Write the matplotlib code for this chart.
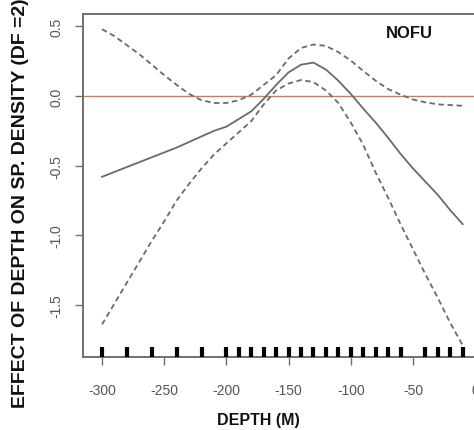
import numpy as np
import matplotlib
matplotlib.use("Agg")
import matplotlib.pyplot as plt

plt.rcParams["font.family"] = ["Liberation Sans", "DejaVu Sans"]
plt.rcParams["axes.unicode_minus"] = False

# =========================================
# DADOS
# =========================================

depth = [-300, -290, -280, -270, -260, -250, -240, -230, -220, -210,
         -200, -190, -180, -170, -160, -150, -140, -130, -120, -110,
         -100, -90, -80, -70, -60, -50, -40, -30, -20, -10]

effect = [-0.58, -0.545, -0.51, -0.475, -0.44, -0.405, -0.37, -0.33, -0.29, -0.25,
          -0.22, -0.165, -0.11, -0.02, 0.08, 0.17, 0.225, 0.24, 0.19, 0.11,
          0.015, -0.09, -0.19, -0.30, -0.415, -0.52, -0.615, -0.71, -0.82, -0.92]

upper = [0.48, 0.43, 0.365, 0.30, 0.225, 0.15, 0.08, 0.015, -0.03, -0.05,
         -0.05, -0.03, 0.01, 0.08, 0.15, 0.27, 0.345, 0.37, 0.36, 0.315,
         0.255, 0.18, 0.11, 0.05, 0.01, -0.025, -0.045, -0.06, -0.065, -0.07]

lower = [-1.64, -1.49, -1.34, -1.19, -1.04, -0.90, -0.75, -0.63, -0.52, -0.42,
         -0.34, -0.26, -0.18, -0.06, 0.04, 0.09, 0.115, 0.10, 0.04, -0.05,
         -0.19, -0.35, -0.55, -0.73, -0.92, -1.10, -1.28, -1.45, -1.63, -1.79]

rug_depths = [-300, -280, -260, -240, -220, -200, -190, -180, -170, -160,
              -150, -140, -130, -120, -110, -100, -90, -80, -70, -60,
              -40, -30, -20, -10]

x_ticks = [-300, -250, -200, -150, -100, -50, 0]
y_ticks = [0.5, 0.0, -0.5, -1.0, -1.5]
y_tick_labels = ["0.5", "0.0", "-0.5", "-1.0", "-1.5"]

# =========================================
# FIGURA
# =========================================

W, H = 474, 431
fig = plt.figure(figsize=(W / 100, H / 100), dpi=100)
ax = fig.add_axes([83 / W, 73 / H, 398 / W, 343 / H])

frame_color = "#707070"
line_color = "#6a6a6a"

ax.axhline(0, color="#c08070", lw=1.0, zorder=1)

ax.plot(depth, effect, color=line_color, lw=1.3, zorder=3)
ax.plot(depth, upper, color=line_color, lw=1.3, ls=(0, (3, 2)), zorder=3)
ax.plot(depth, lower, color=line_color, lw=1.3, ls=(0, (3, 2)), zorder=3)

ax.vlines(rug_depths, 0, 0.029, transform=ax.get_xaxis_transform(),
          colors="black", lw=3.0, zorder=4)

ax.set_xlim(-315.3, 4.7)
ax.set_ylim(-1.874, 0.589)

ax.set_xticks(x_ticks)
ax.set_xticklabels([str(v) for v in x_ticks])
ax.set_yticks(y_ticks)
ax.set_yticklabels(y_tick_labels, rotation=90, va="center")

ax.tick_params(axis="x", length=6, width=1.0, color=frame_color,
               labelcolor="#555555", labelsize=10, pad=13)
ax.tick_params(axis="y", length=6, width=1.0, color=frame_color,
               labelcolor="#555555", labelsize=10, pad=8)

for side in ax.spines.values():
    side.set_color(frame_color)
    side.set_linewidth(1.4)

ax.text(0.819, 0.9475, "NOFU", transform=ax.transAxes, ha="center",
        va="center", fontsize=12, fontweight="bold", color="#111111")

fig.text(258 / W, 10 / H, "DEPTH (M)", ha="center", va="center",
         fontsize=11.5, fontweight="bold", color="#111111")
fig.text(21 / W, 23 / H, "EFFECT OF DEPTH ON SP. DENSITY (DF =2)",
         rotation=90, ha="center", va="bottom",
         fontsize=14, fontweight="bold", color="#111111")

fig.savefig("out.png", dpi=100)
